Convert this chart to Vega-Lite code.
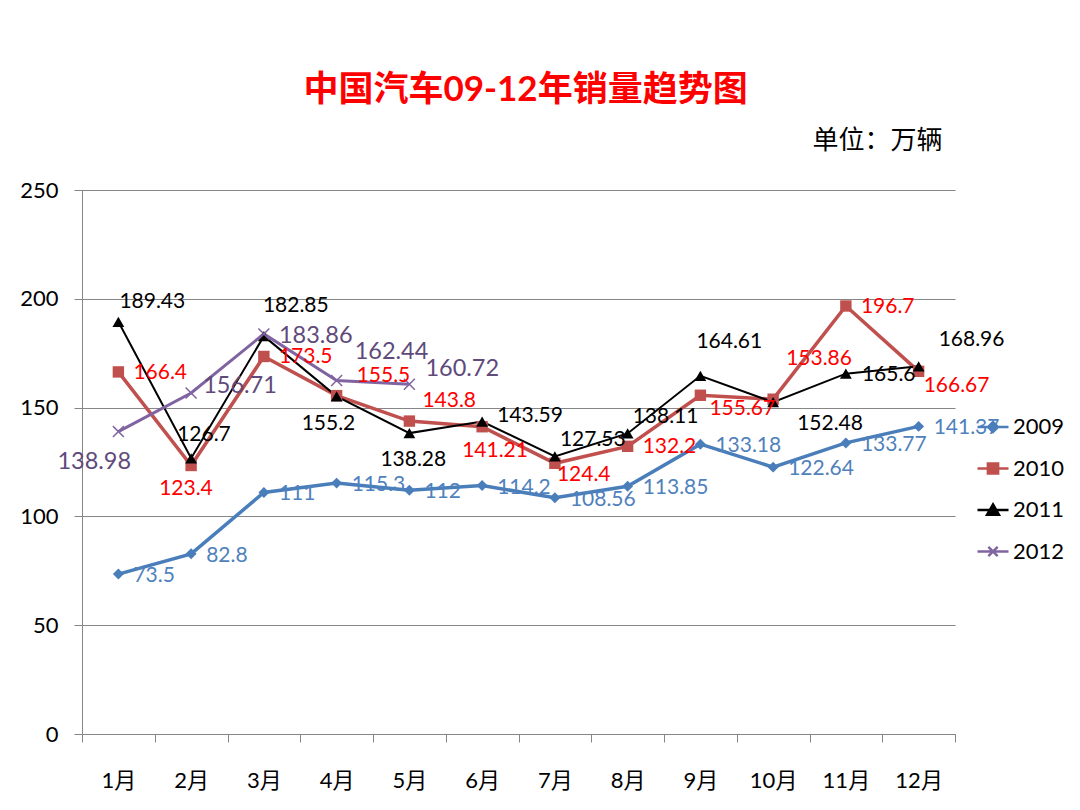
{
  "$schema": "https://vega.github.io/schema/vega-lite/v6.json",
  "width": 873,
  "height": 544,
  "autosize": "none",
  "padding": {"left": 82, "top": 190, "right": 125, "bottom": 76},
  "background": "white",
  "config": {"view": {"stroke": null}, "font": "Lato"},
  "title": {
    "text": "中国汽车09-12年销量趋势图",
    "color": "#FF0000",
    "fontSize": 35,
    "font": "Lato, Noto Sans CJK SC",
    "fontWeight": "bold",
    "anchor": "middle",
    "frame": "group",
    "baseline": "bottom",
    "offset": -16,
    "dx": 7
  },
  "data": {
    "values": [
      {"series": "2009", "month": "1月", "value": 73.5},
      {"series": "2009", "month": "2月", "value": 82.8},
      {"series": "2009", "month": "3月", "value": 111},
      {"series": "2009", "month": "4月", "value": 115.3},
      {"series": "2009", "month": "5月", "value": 112},
      {"series": "2009", "month": "6月", "value": 114.2},
      {"series": "2009", "month": "7月", "value": 108.56},
      {"series": "2009", "month": "8月", "value": 113.85},
      {"series": "2009", "month": "9月", "value": 133.18},
      {"series": "2009", "month": "10月", "value": 122.64},
      {"series": "2009", "month": "11月", "value": 133.77},
      {"series": "2009", "month": "12月", "value": 141.37},
      {"series": "2010", "month": "1月", "value": 166.4},
      {"series": "2010", "month": "2月", "value": 123.4},
      {"series": "2010", "month": "3月", "value": 173.5},
      {"series": "2010", "month": "4月", "value": 155.5},
      {"series": "2010", "month": "5月", "value": 143.8},
      {"series": "2010", "month": "6月", "value": 141.21},
      {"series": "2010", "month": "7月", "value": 124.4},
      {"series": "2010", "month": "8月", "value": 132.2},
      {"series": "2010", "month": "9月", "value": 155.67},
      {"series": "2010", "month": "10月", "value": 153.86},
      {"series": "2010", "month": "11月", "value": 196.7},
      {"series": "2010", "month": "12月", "value": 166.67},
      {"series": "2011", "month": "1月", "value": 189.43},
      {"series": "2011", "month": "2月", "value": 126.7},
      {"series": "2011", "month": "3月", "value": 182.85},
      {"series": "2011", "month": "4月", "value": 155.2},
      {"series": "2011", "month": "5月", "value": 138.28},
      {"series": "2011", "month": "6月", "value": 143.59},
      {"series": "2011", "month": "7月", "value": 127.53},
      {"series": "2011", "month": "8月", "value": 138.11},
      {"series": "2011", "month": "9月", "value": 164.61},
      {"series": "2011", "month": "10月", "value": 152.48},
      {"series": "2011", "month": "11月", "value": 165.6},
      {"series": "2011", "month": "12月", "value": 168.96},
      {"series": "2012", "month": "1月", "value": 138.98},
      {"series": "2012", "month": "2月", "value": 156.71},
      {"series": "2012", "month": "3月", "value": 183.86},
      {"series": "2012", "month": "4月", "value": 162.44},
      {"series": "2012", "month": "5月", "value": 160.72}
    ]
  },
  "encoding": {
    "x": {
      "field": "month",
      "type": "ordinal",
      "sort": ["1月", "2月", "3月", "4月", "5月", "6月", "7月", "8月", "9月", "10月", "11月", "12月"],
      "scale": {"type": "band", "paddingInner": 0, "paddingOuter": 0},
      "axis": {
        "title": null,
        "labelAngle": 0,
        "labelFont": "Lato, Noto Sans CJK SC",
        "labelFontSize": 22,
        "labelColor": "#000000",
        "labelPadding": 28,
        "tickBand": "extent",
        "tickSize": 8,
        "tickColor": "#868686",
        "domainColor": "#868686",
        "grid": false
      }
    },
    "y": {
      "field": "value",
      "type": "quantitative",
      "scale": {"domain": [0, 250], "nice": false},
      "axis": {
        "values": [0, 50, 100, 150, 200, 250],
        "labelFont": "Lato",
        "labelFontSize": 22,
        "labelColor": "#000000",
        "labelPadding": 16,
        "tickSize": 8,
        "tickColor": "#868686",
        "domainColor": "#868686",
        "grid": true,
        "gridColor": "#868686",
        "title": "单位：万辆",
        "titleFont": "Noto Sans CJK SC",
        "titleFontSize": 26,
        "titleFontWeight": "normal",
        "titleColor": "#000000",
        "titleAngle": 0,
        "titleAlign": "right",
        "titleBaseline": "middle",
        "titleX": 860,
        "titleY": -50
      }
    }
  },
  "layer": [
    {
      "transform": [{"filter": "datum.series === '2009'"}],
      "mark": {"type": "line", "color": "#4A7EBB", "strokeWidth": 3.5},
      "encoding": {}
    },
    {
      "transform": [{"filter": "datum.series === '2010'"}],
      "mark": {"type": "line", "color": "#C0504D", "strokeWidth": 3.5},
      "encoding": {}
    },
    {
      "transform": [{"filter": "datum.series === '2011'"}],
      "mark": {"type": "line", "color": "#000000", "strokeWidth": 2},
      "encoding": {}
    },
    {
      "transform": [{"filter": "datum.series === '2012'"}],
      "mark": {"type": "line", "color": "#8064A2", "strokeWidth": 3},
      "encoding": {}
    },
    {
      "transform": [{"filter": "datum.series === '2009'"}],
      "mark": {"type": "point", "shape": "diamond", "size": 120, "filled": true, "opacity": 1, "color": "#4A7EBB"}
    },
    {
      "transform": [{"filter": "datum.series === '2010'"}],
      "mark": {"type": "point", "shape": "square", "size": 130, "filled": true, "opacity": 1, "color": "#C0504D"}
    },
    {
      "transform": [{"filter": "datum.series === '2011'"}],
      "mark": {"type": "point", "shape": "triangle-up", "size": 140, "filled": true, "opacity": 1, "color": "#000000"}
    },
    {
      "transform": [{"filter": "datum.series === '2012'"}],
      "mark": {"type": "point", "shape": "M-1,-1L1,1M-1,1L1,-1", "size": 120, "filled": false, "strokeWidth": 1.5, "opacity": 1, "color": "#8064A2"}
    },
    {
      "mark": {"type": "point", "opacity": 0, "filled": true},
      "encoding": {
        "fill": {
          "field": "series", "type": "nominal",
          "scale": {"domain": ["2009", "2010", "2011", "2012"], "range": ["#4A7EBB", "#C0504D", "#000000", "#8064A2"]},
          "legend": null
        },
        "stroke": {
          "field": "series", "type": "nominal",
          "scale": {"domain": ["2009", "2010", "2011", "2012"], "range": ["#4A7EBB", "#C0504D", "#000000", "#8064A2"]},
          "legend": null
        },
        "shape": {
          "field": "series", "type": "nominal",
          "scale": {
            "domain": ["2009", "2010", "2011", "2012"],
            "range": [
              "M-1,0L1,0M0,-0.32L0.32,0L0,0.32L-0.32,0Z",
              "M-1,0L1,0M-0.33,-0.33L0.33,-0.33L0.33,0.33L-0.33,0.33Z",
              "M-1,0L1,0M0,-0.36L0.38,0.3L-0.38,0.3Z",
              "M-1,0L1,0M-0.3,-0.3L0.3,0.3M-0.3,0.3L0.3,-0.3"
            ]
          },
          "legend": {
            "title": null,
            "orient": "none",
            "legendX": 894,
            "legendY": 220,
            "padding": 0,
            "symbolSize": 961,
            "symbolStrokeWidth": 2.5,
            "symbolOpacity": 1,
            "labelFont": "Lato",
            "labelFontSize": 22,
            "labelColor": "#000000",
            "labelOffset": 3,
            "rowPadding": 13.5
          }
        }
      }
    },
    {
      "transform": [{"filter": "datum.series === '2009'"}],
      "mark": {"type": "text", "align": "left", "baseline": "middle", "dx": 15, "dy": 2, "fontSize": 21, "font": "Lato", "color": "#4F81BD"},
      "encoding": {"text": {"field": "value", "type": "nominal"}}
    },
    {
      "transform": [{"filter": "datum.series === '2010' && indexof(['1月','3月','8月','11月'], datum.month) >= 0"}],
      "mark": {"type": "text", "align": "left", "baseline": "middle", "dx": 15, "dy": 1, "fontSize": 21, "font": "Lato", "color": "#FF0000"},
      "encoding": {"text": {"field": "value", "type": "nominal"}}
    },
    {
      "transform": [{"filter": "datum.series === '2010' && datum.month === '2月'"}],
      "mark": {"type": "text", "align": "left", "baseline": "middle", "dx": -32, "dy": 24, "fontSize": 21, "font": "Lato", "color": "#FF0000"},
      "encoding": {"text": {"field": "value", "type": "nominal"}}
    },
    {
      "transform": [{"filter": "datum.series === '2010' && datum.month === '4月'"}],
      "mark": {"type": "text", "align": "left", "baseline": "middle", "dx": 20, "dy": -20, "fontSize": 21, "font": "Lato", "color": "#FF0000"},
      "encoding": {"text": {"field": "value", "type": "nominal"}}
    },
    {
      "transform": [{"filter": "datum.series === '2010' && datum.month === '5月'"}],
      "mark": {"type": "text", "align": "left", "baseline": "middle", "dx": 13, "dy": -20, "fontSize": 21, "font": "Lato", "color": "#FF0000"},
      "encoding": {"text": {"field": "value", "type": "nominal"}}
    },
    {
      "transform": [{"filter": "datum.series === '2010' && datum.month === '6月'"}],
      "mark": {"type": "text", "align": "left", "baseline": "middle", "dx": -20, "dy": 24, "fontSize": 21, "font": "Lato", "color": "#FF0000"},
      "encoding": {"text": {"field": "value", "type": "nominal"}}
    },
    {
      "transform": [{"filter": "datum.series === '2010' && datum.month === '7月'"}],
      "mark": {"type": "text", "align": "left", "baseline": "middle", "dx": 2, "dy": 12, "fontSize": 21, "font": "Lato", "color": "#FF0000"},
      "encoding": {"text": {"field": "value", "type": "nominal"}}
    },
    {
      "transform": [{"filter": "datum.series === '2010' && datum.month === '9月'"}],
      "mark": {"type": "text", "align": "left", "baseline": "middle", "dx": 9, "dy": 14, "fontSize": 21, "font": "Lato", "color": "#FF0000"},
      "encoding": {"text": {"field": "value", "type": "nominal"}}
    },
    {
      "transform": [{"filter": "datum.series === '2010' && datum.month === '10月'"}],
      "mark": {"type": "text", "align": "left", "baseline": "middle", "dx": 13, "dy": -40, "fontSize": 21, "font": "Lato", "color": "#FF0000"},
      "encoding": {"text": {"field": "value", "type": "nominal"}}
    },
    {
      "transform": [{"filter": "datum.series === '2010' && datum.month === '12月'"}],
      "mark": {"type": "text", "align": "left", "baseline": "middle", "dx": 5, "dy": 15, "fontSize": 21, "font": "Lato", "color": "#FF0000"},
      "encoding": {"text": {"field": "value", "type": "nominal"}}
    },
    {
      "transform": [{"filter": "datum.series === '2011' && datum.month === '1月'"}],
      "mark": {"type": "text", "align": "left", "baseline": "middle", "dx": 1, "dy": -20, "fontSize": 21, "font": "Lato", "color": "#000000"},
      "encoding": {"text": {"field": "value", "type": "nominal"}}
    },
    {
      "transform": [{"filter": "datum.series === '2011' && datum.month === '2月'"}],
      "mark": {"type": "text", "align": "left", "baseline": "middle", "dx": -14, "dy": -23, "fontSize": 21, "font": "Lato", "color": "#000000"},
      "encoding": {"text": {"field": "value", "type": "nominal"}}
    },
    {
      "transform": [{"filter": "datum.series === '2011' && datum.month === '3月'"}],
      "mark": {"type": "text", "align": "left", "baseline": "middle", "dx": -1, "dy": -30, "fontSize": 21, "font": "Lato", "color": "#000000"},
      "encoding": {"text": {"field": "value", "type": "nominal"}}
    },
    {
      "transform": [{"filter": "datum.series === '2011' && datum.month === '4月'"}],
      "mark": {"type": "text", "align": "left", "baseline": "middle", "dx": -35, "dy": 28, "fontSize": 21, "font": "Lato", "color": "#000000"},
      "encoding": {"text": {"field": "value", "type": "nominal"}}
    },
    {
      "transform": [{"filter": "datum.series === '2011' && datum.month === '5月'"}],
      "mark": {"type": "text", "align": "left", "baseline": "middle", "dx": -29, "dy": 27, "fontSize": 21, "font": "Lato", "color": "#000000"},
      "encoding": {"text": {"field": "value", "type": "nominal"}}
    },
    {
      "transform": [{"filter": "datum.series === '2011' && datum.month === '6月'"}],
      "mark": {"type": "text", "align": "left", "baseline": "middle", "dx": 15, "dy": -6, "fontSize": 21, "font": "Lato", "color": "#000000"},
      "encoding": {"text": {"field": "value", "type": "nominal"}}
    },
    {
      "transform": [{"filter": "datum.series === '2011' && (datum.month === '7月' || datum.month === '8月')"}],
      "mark": {"type": "text", "align": "left", "baseline": "middle", "dx": 5, "dy": -16, "fontSize": 21, "font": "Lato", "color": "#000000"},
      "encoding": {"text": {"field": "value", "type": "nominal"}}
    },
    {
      "transform": [{"filter": "datum.series === '2011' && datum.month === '9月'"}],
      "mark": {"type": "text", "align": "left", "baseline": "middle", "dx": -4, "dy": -34, "fontSize": 21, "font": "Lato", "color": "#000000"},
      "encoding": {"text": {"field": "value", "type": "nominal"}}
    },
    {
      "transform": [{"filter": "datum.series === '2011' && datum.month === '10月'"}],
      "mark": {"type": "text", "align": "left", "baseline": "middle", "dx": 24, "dy": 22, "fontSize": 21, "font": "Lato", "color": "#000000"},
      "encoding": {"text": {"field": "value", "type": "nominal"}}
    },
    {
      "transform": [{"filter": "datum.series === '2011' && datum.month === '11月'"}],
      "mark": {"type": "text", "align": "left", "baseline": "middle", "dx": 16, "dy": 1, "fontSize": 21, "font": "Lato", "color": "#000000"},
      "encoding": {"text": {"field": "value", "type": "nominal"}}
    },
    {
      "transform": [{"filter": "datum.series === '2011' && datum.month === '12月'"}],
      "mark": {"type": "text", "align": "left", "baseline": "middle", "dx": 20, "dy": -26, "fontSize": 21, "font": "Lato", "color": "#000000"},
      "encoding": {"text": {"field": "value", "type": "nominal"}}
    },
    {
      "transform": [{"filter": "datum.series === '2012' && datum.month === '1月'"}],
      "mark": {"type": "text", "align": "left", "baseline": "middle", "dx": -61, "dy": 30, "fontSize": 23.5, "font": "Lato", "color": "#604A7B"},
      "encoding": {"text": {"field": "value", "type": "nominal"}}
    },
    {
      "transform": [{"filter": "datum.series === '2012' && datum.month === '2月'"}],
      "mark": {"type": "text", "align": "left", "baseline": "middle", "dx": 12, "dy": -7, "fontSize": 23.5, "font": "Lato", "color": "#604A7B"},
      "encoding": {"text": {"field": "value", "type": "nominal"}}
    },
    {
      "transform": [{"filter": "datum.series === '2012' && datum.month === '3月'"}],
      "mark": {"type": "text", "align": "left", "baseline": "middle", "dx": 15, "dy": 2, "fontSize": 23.5, "font": "Lato", "color": "#604A7B"},
      "encoding": {"text": {"field": "value", "type": "nominal"}}
    },
    {
      "transform": [{"filter": "datum.series === '2012' && datum.month === '4月'"}],
      "mark": {"type": "text", "align": "left", "baseline": "middle", "dx": 18, "dy": -29, "fontSize": 23.5, "font": "Lato", "color": "#604A7B"},
      "encoding": {"text": {"field": "value", "type": "nominal"}}
    },
    {
      "transform": [{"filter": "datum.series === '2012' && datum.month === '5月'"}],
      "mark": {"type": "text", "align": "left", "baseline": "middle", "dx": 16, "dy": -15, "fontSize": 23.5, "font": "Lato", "color": "#604A7B"},
      "encoding": {"text": {"field": "value", "type": "nominal"}}
    }
  ]
}
